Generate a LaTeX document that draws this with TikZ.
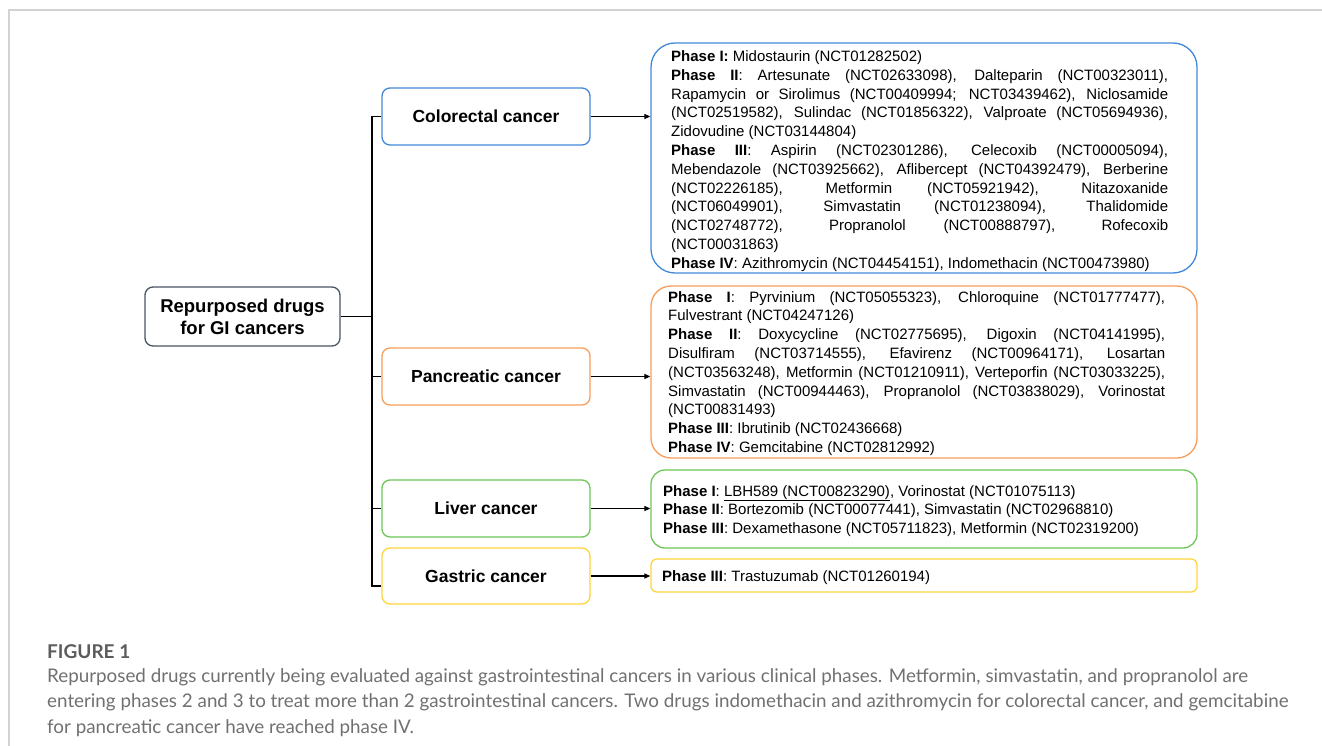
\documentclass[tikz,border=0pt]{standalone}
\usepackage{fontspec}
\setmainfont{Liberation Sans}
\newfontfamily\capfont{Lato}
\usetikzlibrary{arrows.meta}
\definecolor{cBlue}{HTML}{4288D8}
\definecolor{cOrange}{HTML}{F99D5B}
\definecolor{cGreen}{HTML}{6DC657}
\definecolor{cYellow}{HTML}{FFD43A}
\definecolor{cMain}{HTML}{4A5463}
\definecolor{cFrame}{HTML}{D2D2D2}
\definecolor{cCap}{HTML}{707070}
\definecolor{cCapHead}{HTML}{5C5C5C}
\hbadness=10000 \hfuzz=30pt \emergencystretch=20pt
\tikzset{
  mainbox/.style={draw=cMain, rounded corners=8pt, line width=1.3pt, minimum width=195pt, minimum height=59pt, inner sep=0pt, align=center, font=\fontsize{18.5}{22}\selectfont\bfseries},
  catbox/.style={draw, rounded corners=8pt, line width=1.3pt, minimum width=208pt, minimum height=57pt, inner sep=0pt, font=\fontsize{17.5}{21}\selectfont\bfseries},
  detbox/.style={draw, line width=1.3pt, minimum width=546pt, inner sep=0pt},
  dettext/.style={anchor=north west, inner sep=0pt, text width=497pt, align=justify, font=\fontsize{15}{18.8}\selectfont},
  plaintext/.style={inner sep=0pt, align=left, font=\fontsize{15}{18.7}\selectfont},
  conn/.style={line width=1.4pt, black},
  arr/.style={line width=1.2pt, black, -{Triangle[length=6pt,width=5pt]}},
}
\begin{document}
\begin{tikzpicture}[x=1pt,y=-1pt]
\useasboundingbox (0,0) rectangle (1322,746);
% frame
\draw[cFrame, line width=1.5pt] (1322,10) -- (9,10) -- (9,746);

% main node
\node[mainbox] (main) at (242.5,316.5) {Repurposed drugs\\for GI cancers};

% category boxes
\node[catbox, draw=cBlue]   (col) at (486,116.5) {Colorectal cancer};
\node[catbox, draw=cOrange] (pan) at (486,376.5) {Pancreatic cancer};
\node[catbox, draw=cGreen]  (liv) at (486,508.5) {Liver cancer};
\node[catbox, draw=cYellow, minimum height=56pt] (gas) at (486,576) {Gastric cancer};

% detail boxes
\node[detbox, draw=cBlue,   rounded corners=24pt, minimum height=230pt] (cd) at (924,158) {};
\node[detbox, draw=cOrange, rounded corners=20pt, minimum height=172pt] (pd) at (924,372) {};
\node[detbox, draw=cGreen,  rounded corners=14pt, minimum height=78pt]  (ld) at (924,509) {};
\node[detbox, draw=cYellow, rounded corners=6pt,  minimum height=33pt]  (gd) at (924,575.5) {};

% tree connectors
\coordinate (tb) at (372,586);
\coordinate (gstub) at (gas.west |- tb);
\draw[conn] (col.west) -| (tb) -- (gstub);
\draw[conn] (main.east) -- (main.east -| tb);
\draw[conn] (pan.west) -- (pan.west -| tb);
\draw[conn] (liv.west) -- (liv.west -| tb);

% arrows
\draw[arr] (col.east) -- (col.east -| cd.west);
\draw[arr] (pan.east) -- (pan.east -| pd.west);
\draw[arr] (liv.east) -- (liv.east -| ld.west);
\draw[arr] (gas.east) -- (gas.east -| gd.west);

% detail texts
\node[dettext] (ct) at (671,50.5) {\textbf{Phase I:} Midostaurin (NCT01282502)\\
\textbf{Phase II}: Artesunate (NCT02633098), Dalteparin (NCT00323011),\linebreak Rapamycin or Sirolimus (NCT00409994; NCT03439462), Niclosamide\linebreak (NCT02519582), Sulindac (NCT01856322), Valproate (NCT05694936),\linebreak Zidovudine (NCT03144804)\\
\textbf{Phase III}: Aspirin (NCT02301286), Celecoxib (NCT00005094),\linebreak Mebendazole (NCT03925662), Aflibercept (NCT04392479), Berberine\linebreak (NCT02226185), Metformin (NCT05921942), Nitazoxanide\linebreak (NCT06049901), Simvastatin (NCT01238094), Thalidomide\linebreak (NCT02748772), Propranolol (NCT00888797), Rofecoxib\linebreak (NCT00031863)\\
\textbf{Phase IV}: Azithromycin (NCT04454151), Indomethacin (NCT00473980)};

\node[dettext] (pt) at (668,291) {\textbf{Phase I}: Pyrvinium (NCT05055323), Chloroquine (NCT01777477),\linebreak Fulvestrant (NCT04247126)\\
\textbf{Phase II}: Doxycycline (NCT02775695), Digoxin (NCT04141995),\linebreak Disulfiram (NCT03714555), Efavirenz (NCT00964171), Losartan\linebreak (NCT03563248), Metformin (NCT01210911), Verteporfin (NCT03033225),\linebreak Simvastatin (NCT00944463), Propranolol (NCT03838029), Vorinostat\linebreak (NCT00831493)\\
\textbf{Phase III}: Ibrutinib (NCT02436668)\\
\textbf{Phase IV}: Gemcitabine (NCT02812992)};

\node[plaintext, anchor=north west] (lt) at (663,485) {\textbf{Phase I}: \underline{LBH589 (NCT00823290)}, Vorinostat (NCT01075113)\\
\textbf{Phase II}: Bortezomib (NCT00077441), Simvastatin (NCT02968810)\\
\textbf{Phase III}: Dexamethasone (NCT05711823), Metformin (NCT02319200)};

\node[plaintext, anchor=base west] (gt) at (662,581) {\textbf{Phase III}: Trastuzumab (NCT01260194)};

% caption
\node[anchor=base west, inner sep=0pt, text=cCapHead, font=\capfont\fontsize{19}{24}\selectfont\bfseries] (fig) at (47,658) {FIGURE 1};
\node[anchor=north west, inner sep=0pt, text=cCap, align=left, font=\capfont\fontsize{18.8}{25.5}\selectfont] (cap) at (47,668) {Repurposed drugs currently being evaluated against gastrointestinal cancers in various clinical phases. Metformin, simvastatin, and propranolol are\\
entering phases 2 and 3 to treat more than 2 gastrointestinal cancers. Two drugs indomethacin and azithromycin for colorectal cancer, and gemcitabine\\
for pancreatic cancer have reached phase IV.};
\end{tikzpicture}
\end{document}
